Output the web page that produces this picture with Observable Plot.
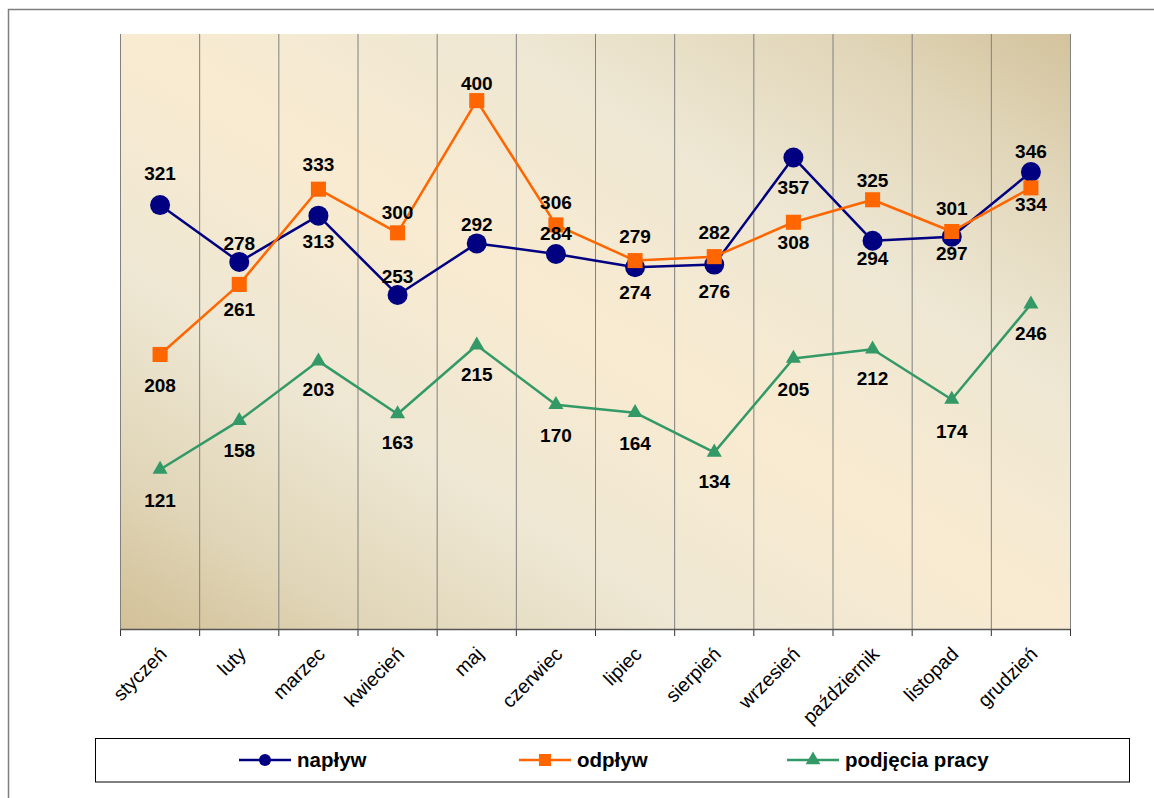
<!DOCTYPE html>
<html>
<head>
<meta charset="utf-8">
<script src="https://cdn.jsdelivr.net/npm/d3@7"></script>
<script src="https://cdn.jsdelivr.net/npm/@observablehq/plot@0.6"></script>
<style>
  html, body { margin: 0; padding: 0; background: #fff; overflow: hidden; }
  #chart svg { display: block; }
</style>
</head>
<body>
<div id="chart"></div>
<script>
// ---- data ----
const months = ["styczeń","luty","marzec","kwiecień","maj","czerwiec","lipiec","sierpień","wrzesień","październik","listopad","grudzień"];
const seriesNames = ["napływ","odpływ","podjęcia pracy"];
const naplyw   = [321,278,313,253,292,284,274,276,357,294,297,346];
const odplyw   = [208,261,333,300,400,306,279,282,308,325,301,334];
const podjecia = [121,158,203,163,215,170,164,134,205,212,174,246];

// ---- label placement (pixel offsets of value labels from their points) ----
const offNaplyw   = [-31,-18,26,-18,-19,-20,26,27,30,18,17,-20];
const offOdplyw   = [31,26,-24,-20,-17,-22,-24,-24,21,-19,-23,17];
const offPodjecia = [31,30,29,29,30,31,31,30,31,30,32,30];

// ---- styles ----
const colors = {"napływ":"#000080","odpływ":"#FF6600","podjęcia pracy":"#339966"};
const symbols = {"napływ":"circle","odpływ":"square","podjęcia pracy":"triangle"};
const radii = {"napływ":10,"odpływ":8.5,"podjęcia pracy":5.6};
const FONT = "'Liberation Sans', Arial, sans-serif";

const W = 1154, H = 798, mL = 120, mR = 84, mT = 34, mB = 169, yMax = 450;
const pxPerUnit = (H - mT - mB) / yMax;

const seriesValues = [naplyw, odplyw, podjecia];
const seriesOff = [offNaplyw, offOdplyw, offPodjecia];
const rows = [];
seriesNames.forEach((name, si) => {
  seriesValues[si].forEach((v, i) => rows.push({series: name, i, month: months[i], value: v, off: seriesOff[si][i]}));
});
const bySeries = name => rows.filter(r => r.series === name);

function background(index, scales, values, dims) {
  const g = d3.create("svg:g");
  const lg = g.append("defs").append("linearGradient")
    .attr("id", "plotbg").attr("x1", 0).attr("y1", 1).attr("x2", 1).attr("y2", 0);
  [[0,"#d2c097"],[0.13,"#e0d5b7"],[0.3,"#eee7d3"],[0.5,"#f9ebd1"],[0.7,"#eee7d3"],[0.87,"#e1d6b9"],[1,"#d3c39d"]]
    .forEach(([o,c]) => lg.append("stop").attr("offset", o).attr("stop-color", c));
  g.append("rect")
    .attr("x", dims.marginLeft).attr("y", dims.marginTop)
    .attr("width", dims.width - dims.marginLeft - dims.marginRight)
    .attr("height", dims.height - dims.marginTop - dims.marginBottom)
    .attr("fill", "url(#plotbg)");
  return g.node();
}

function legendAndBorder(index, scales, values, dims) {
  const g = d3.create("svg:g");
  g.append("rect").attr("x", 8.5).attr("y", 9.5).attr("width", 1300).attr("height", 1000)
    .attr("fill", "none").attr("stroke", "#7f7f7f").attr("stroke-width", 1.5);
  g.append("rect").attr("x", 95.5).attr("y", 738.5).attr("width", 1034).attr("height", 43.5)
    .attr("fill", "#fff").attr("stroke", "#000").attr("stroke-width", 1);
  const items = [
    {name: seriesNames[0], x0: 239},
    {name: seriesNames[1], x0: 519},
    {name: seriesNames[2], x0: 787}
  ];
  const cy = 760;
  items.forEach(it => {
    const c = colors[it.name];
    const len = 52;
    g.append("line").attr("x1", it.x0).attr("x2", it.x0 + len).attr("y1", cy).attr("y2", cy)
      .attr("stroke", c).attr("stroke-width", 2.5);
    const mx = it.x0 + len / 2;
    const type = symbols[it.name] === "circle" ? d3.symbolCircle : symbols[it.name] === "square" ? d3.symbolSquare : d3.symbolTriangle;
    const size = symbols[it.name] === "circle" ? Math.PI * 36 : symbols[it.name] === "square" ? 144 : 95;
    g.append("path").attr("d", d3.symbol().type(type).size(size)()).attr("transform", `translate(${mx},${cy})`).attr("fill", c);
    g.append("text").attr("x", it.x0 + len + 6).attr("y", cy).attr("dy", "0.35em")
      .attr("text-anchor", "start")
      .style("font-family", FONT).style("font-size", "20.5px").style("font-weight", "bold").attr("fill", "#000")
      .text(it.name);
  });
  return g.node();
}

const seriesMarks = [];
["podjęcia pracy", "napływ", "odpływ"].forEach(name => {
  const data = bySeries(name);
  seriesMarks.push(Plot.line(data, {x: d => d.i + 0.5, y: "value", stroke: colors[name], strokeWidth: 2.5}));
  seriesMarks.push(Plot.dot(data, {x: d => d.i + 0.5, y: "value", fill: colors[name], stroke: "none", symbol: symbols[name], r: radii[name]}));
});

const chart = Plot.plot({
  width: W,
  height: H,
  marginLeft: mL,
  marginRight: mR,
  marginTop: mT,
  marginBottom: mB,
  style: {fontFamily: FONT, background: "#fff", overflow: "visible"},
  x: {domain: [0, months.length], axis: null},
  y: {domain: [0, yMax], axis: null},
  marks: [
    background,
    Plot.ruleX(d3.range(months.length + 1), {stroke: "#808080", strokeWidth: 1}),
    Plot.ruleX(d3.range(months.length + 1), {y1: 0, y2: -7 / pxPerUnit, stroke: "#333", strokeWidth: 1}),
    Plot.ruleY([0], {stroke: "#555", strokeWidth: 1.5}),
    ...seriesMarks,
    Plot.text(rows, {
      x: d => d.i + 0.5,
      y: d => d.value - d.off / pxPerUnit,
      text: d => String(d.value),
      fontSize: 19, fontWeight: "bold", fill: "#000"
    }),
    Plot.text(months, {
      x: (d, i) => i + 0.5,
      text: d => d,
      frameAnchor: "bottom",
      rotate: -45,
      textAnchor: "end",
      lineAnchor: "top",
      dx: -2, dy: 16,
      fontSize: 19.5, fill: "#000"
    }),
    legendAndBorder
  ]
});
document.getElementById("chart").appendChild(chart);
</script>
</body>
</html>
